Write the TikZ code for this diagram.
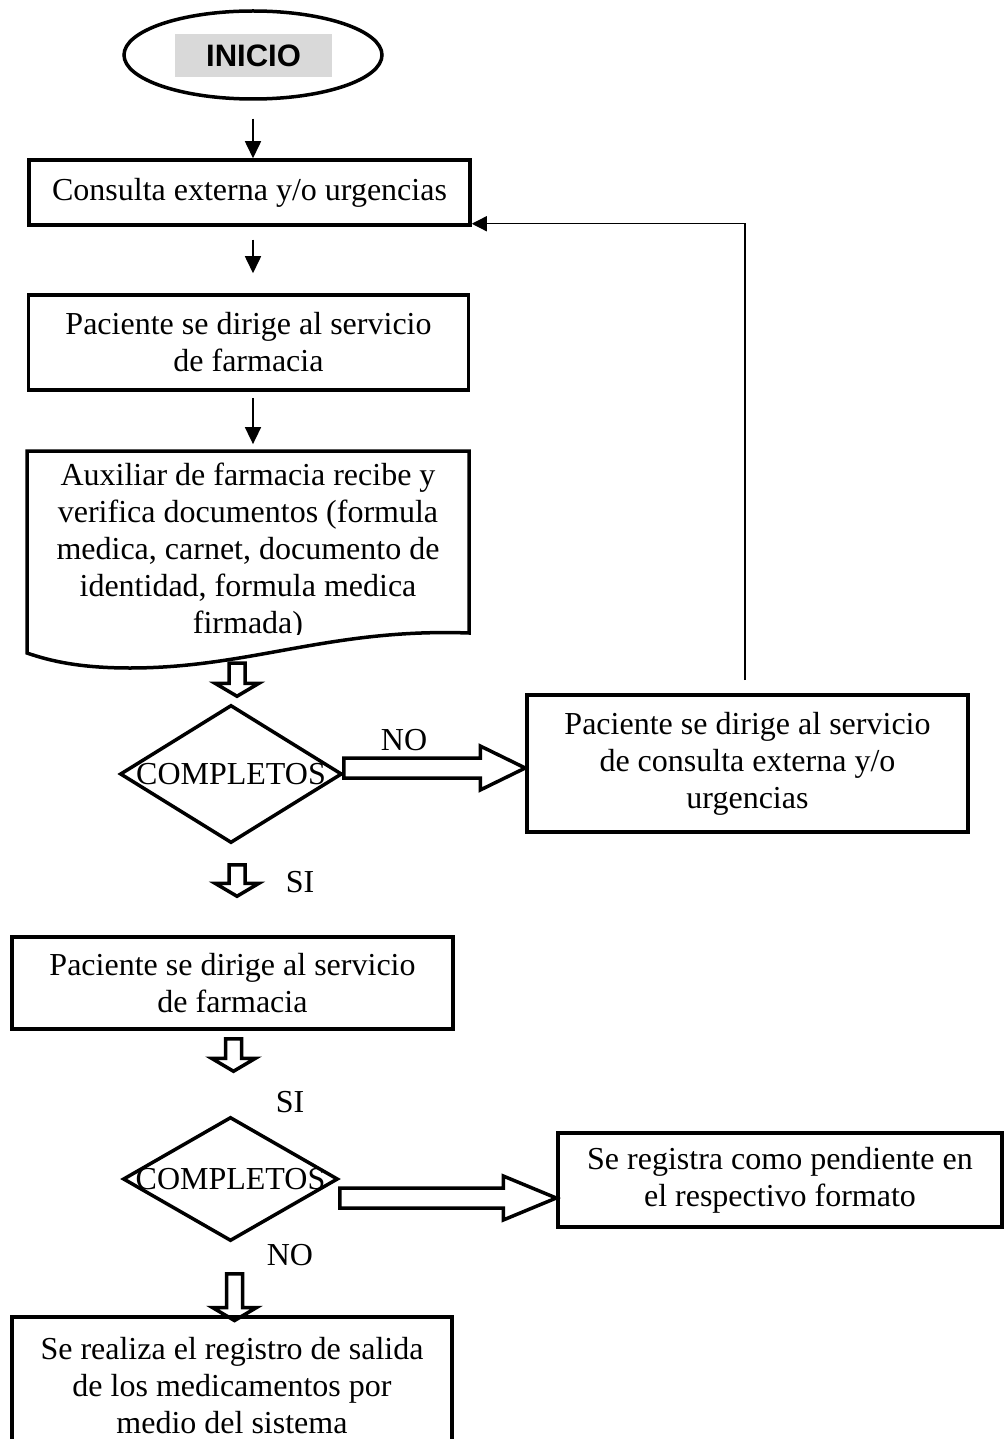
\documentclass[tikz,border=0pt]{standalone}
\usepackage{fontspec}
\setmainfont{Liberation Serif}
\newfontfamily\arialfont{Liberation Sans}
\usetikzlibrary{shapes.geometric,arrows.meta,calc}

\tikzset{
  caja/.style={draw, line width=3.5pt, align=center, inner sep=0pt},
  rombo/.style={diamond, draw, line width=3.5pt, inner sep=0pt},
  flecha/.style={line width=1.6pt, -{Triangle[length=17pt,width=16pt]}},
  retorno/.style={line width=1.3pt, -{Triangle[length=15pt,width=15pt]}},
  hueca abajo/.style={draw, line width=3.5pt, to path={
    let \p1=(\tikztostart), \p2=(\tikztotarget) in
    (\x1-8pt,\y1) -- (\x1-8pt,\y2+13pt) -- (\x1-22pt,\y2+13pt) -- (\x1,\y2)
    -- (\x1+22pt,\y2+13pt) -- (\x1+8pt,\y2+13pt) -- (\x1+8pt,\y1) -- cycle}},
  hueca derecha/.style={draw, line width=3.5pt, to path={
    let \p1=(\tikztostart), \p2=(\tikztotarget) in
    (\x1,\y1+10pt) -- (\x2-#1,\y1+10pt) -- (\x2-#1,\y1+22pt) -- (\x2,\y1)
    -- (\x2-#1,\y1-22pt) -- (\x2-#1,\y1-10pt) -- (\x1,\y1-10pt) -- cycle}},
  hueca derecha/.default=45pt
}

\begin{document}
\begin{tikzpicture}[x=1pt, y=-1pt, font=\fontsize{32pt}{37pt}\selectfont]
  \useasboundingbox (0,0) rectangle (1007,1439);

  % inicio
  \node[ellipse, draw, line width=3.5pt, minimum width=258pt, minimum height=88pt] (inicio) at (253,55) {};
  \node[fill=black!15, minimum width=157pt, minimum height=43pt, inner sep=0pt,
        font=\arialfont\bfseries\fontsize{31pt}{31pt}\selectfont] (inicio texto) at (253.5,55.5) {INICIO};

  % cajas de la columna izquierda
  \node[caja, minimum width=441pt, minimum height=65pt] (consulta) at (249.5,192.5) {Consulta externa y/o urgencias};
  \node[caja, minimum width=440pt, minimum height=95pt] (paciente) at (248.5,342.5)
    {Paciente se dirige al servicio\\de farmacia};

  % documento con borde ondulado
  \draw[line width=3.5pt] (27,451) -- (469,451) -- (469,633)
    .. controls (330,628) and (250,668) .. (130,668)
    .. controls (80,668) and (50,661) .. (27,653) -- cycle;
  \begin{scope}
    \clip (27,451) rectangle (469,634);
    \node[align=center, inner sep=0pt] (auxiliar) at (248,552)
      {Auxiliar de farmacia recibe y\\verifica documentos (formula\\medica, carnet, documento de\\identidad, formula medica\\firmada)};
  \end{scope}

  \node[rombo, minimum width=222pt, minimum height=138pt, label=center:COMPLETOS] (completos1) at (231,774) {};
  \node[caja, minimum width=441pt, minimum height=137pt] (externa) at (747.5,763.5)
    {Paciente se dirige al servicio\\de consulta externa y/o\\urgencias};

  \node[caja, minimum width=441pt, minimum height=92pt] (farmacia) at (232.5,983)
    {Paciente se dirige al servicio\\de farmacia};
  \node[rombo, minimum width=215pt, minimum height=124pt, label=center:COMPLETOS] (completos2) at (230.5,1179) {};
  \node[caja, minimum width=444pt, minimum height=94pt] (pendiente) at (780,1180)
    {Se registra como pendiente en\\el respectivo formato};
  \draw[line width=3.5pt] (12,1460) |- (452,1317) -- (452,1460);
  \node[align=center, inner sep=0pt] (salida) at (232,1386)
    {Se realiza el registro de salida\\de los medicamentos por\\medio del sistema};

  % etiquetas
  \node (no1) at (404,740) {NO};
  \node (si1) at (300,882) {SI};
  \node (si2) at (290,1102) {SI};
  \node (no2) at (290,1255) {NO};

  % flechas simples
  \draw[flecha] ([yshift=-18pt]inicio.south) -- (inicio.south |- consulta.north);
  \draw[flecha] ([xshift=3.5pt,yshift=-13pt]consulta.south) -- ([xshift=4.5pt,yshift=20pt]paciente.north);
  \draw[flecha] ([xshift=4.5pt,yshift=-6pt]paciente.south) -- ([xshift=4.5pt,yshift=19pt]paciente.south |- auxiliar.north);
  \coordinate (vuelta) at (745,680);
  \draw[retorno] (vuelta) |- ([yshift=3pt]consulta.south east);

  % flechas huecas
  \coordinate (doc base) at (237,663);
  \draw[hueca abajo] (doc base) to ([xshift=6pt,yshift=7pt]completos1.north);
  \draw[hueca derecha] ([yshift=6pt]completos1.east) to ([yshift=6pt]externa.west);
  \draw[hueca abajo] ([xshift=6pt,yshift=-20pt]completos1.south) to ([xshift=5pt,yshift=39pt]farmacia.north);
  \draw[hueca abajo] ([xshift=1pt,yshift=-8pt]farmacia.south) to ([xshift=3pt,yshift=44pt]completos2.north);
  \draw[hueca derecha=53pt] ([yshift=-19pt]completos2.east) to ([yshift=-18pt]pendiente.west);
  \draw[hueca abajo] ([xshift=4pt,yshift=-31pt]completos2.south) to ([xshift=3pt,yshift=17pt]salida.north -| farmacia.south);
\end{tikzpicture}
\end{document}
